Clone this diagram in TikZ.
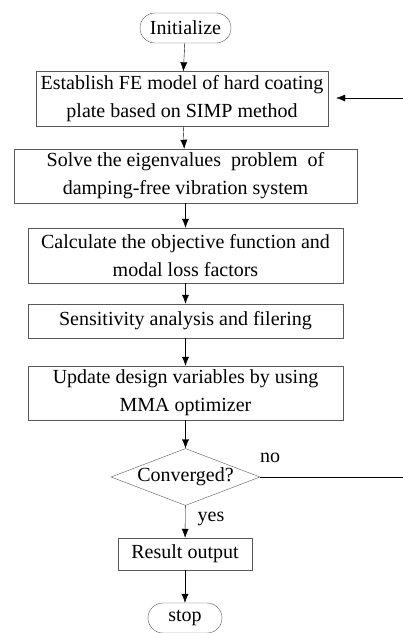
\documentclass[tikz,border=0pt]{standalone}
\usepackage{fontspec}
\setmainfont{Liberation Serif}
\usetikzlibrary{shapes.geometric,arrows.meta}
\begin{document}
\begin{tikzpicture}[
    x=1pt, y=-1pt,
    txt/.style={font=\fontsize{20}{28}\selectfont, align=center, inner sep=0pt},
    block/.style={txt, draw=black!65, thin},
    term/.style={block, rounded corners=15pt, minimum height=30pt},
    test/.style={txt, draw=black!65, thin, diamond, aspect=2.6, minimum width=149pt, minimum height=57pt},
    flow/.style={-{Latex[length=9pt,width=7pt]}, thin}
  ]
  \useasboundingbox (0,0) rectangle (403,633);

  \node (init) at (185.5, 28)  [term, minimum width=91pt] {Initialize};
  \node (b1) at (182, 99)      [block, minimum width=292pt, minimum height=55pt] {%
    Establish FE model of hard coating \\ plate based on SIMP method};
  \node (b2) at (185.5, 176)   [block, minimum width=343pt, minimum height=54pt] {%
    Solve the eigenvalues\ \ problem\ \ of \\ damping-free vibration system};
  \node (b3) at (185.5, 255.5) [block, minimum width=315pt, minimum height=55pt] {%
    Calculate the objective function and \\ modal loss factors};
  \node (b4) at (185.5, 321)   [block, minimum width=315pt, minimum height=34pt] {%
    Sensitivity analysis and filering};
  \node (b5) at (185.5, 393)   [block, minimum width=315pt, minimum height=54pt] {%
    Update design variables by using \\ MMA optimizer};
  \node (conv) at (185.5, 477) [test] {Converged?};
  \node (res) at (185, 554)    [block, minimum width=134pt, minimum height=32pt] {Result output};
  \node (stop) at (185, 618)   [term, minimum width=74pt] {stop};

  \node (no) at (270, 458)  [txt] {no};
  \node (yes) at (211, 519) [txt] {yes};

  \coordinate (out) at (403, 477);
  \coordinate (back) at (403, 98);

  \draw [flow] (init) -- (b1);
  \draw [flow] (b1) -- (b2);
  \draw [flow] (b2) -- (b3);
  \draw [flow] (b3) -- (b4);
  \draw [flow] (b4) -- (b5);
  \draw [flow] (b5) -- (conv);
  \draw [flow] (conv) -- (res);
  \draw [flow] (res) -- (stop);
  \draw [thin] (conv.east) -- (out);
  \draw [flow, shorten >=8pt] (back) -- (back -| b1.east);
\end{tikzpicture}
\end{document}
